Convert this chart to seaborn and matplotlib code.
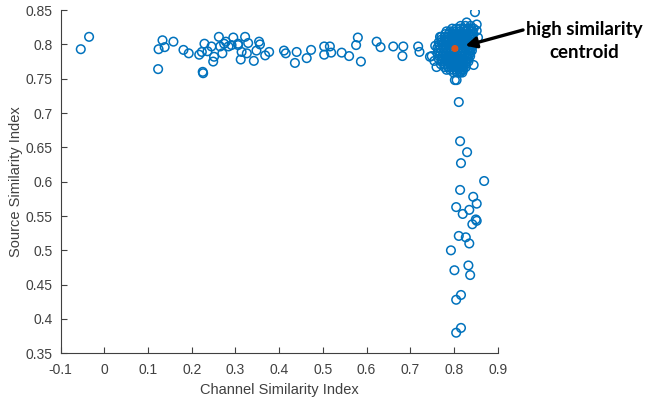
import numpy as np
import pandas as pd
import matplotlib
matplotlib.use("Agg")
import matplotlib.pyplot as plt
import seaborn as sns
from matplotlib.ticker import FuncFormatter

# Scattered pairs along the horizontal band (low channel similarity)
band_channel = [-0.054, -0.035, 0.123, 0.124, 0.133, 0.138, 0.158, 0.181, 0.193,
                0.217, 0.225, 0.226, 0.223, 0.229, 0.236, 0.245, 0.249, 0.251,
                0.262, 0.265, 0.270, 0.274, 0.278, 0.284, 0.295, 0.306, 0.291,
                0.306, 0.322, 0.329, 0.314, 0.326, 0.312, 0.342, 0.348, 0.354,
                0.356, 0.368, 0.377, 0.411, 0.415, 0.440, 0.436, 0.463, 0.473,
                0.503, 0.503, 0.516, 0.519, 0.543, 0.560, 0.576, 0.580, 0.587,
                0.623, 0.632, 0.661, 0.684, 0.682, 0.718, 0.721, 0.745]
band_source = [0.793, 0.811, 0.764, 0.793, 0.806, 0.796, 0.804, 0.792, 0.787,
               0.785, 0.760, 0.758, 0.789, 0.801, 0.790, 0.797, 0.775, 0.782,
               0.811, 0.797, 0.787, 0.801, 0.804, 0.797, 0.810, 0.801, 0.799,
               0.799, 0.811, 0.802, 0.789, 0.787, 0.778, 0.776, 0.791, 0.804,
               0.800, 0.784, 0.789, 0.791, 0.787, 0.789, 0.773, 0.780, 0.792,
               0.797, 0.785, 0.797, 0.788, 0.788, 0.783, 0.799, 0.810, 0.775,
               0.804, 0.796, 0.797, 0.797, 0.783, 0.797, 0.789, 0.782]

# Scattered pairs along the vertical arm (low source similarity)
arm_channel = [0.811, 0.814, 0.830, 0.816, 0.869, 0.814, 0.844, 0.852, 0.805,
               0.835, 0.820, 0.850, 0.852, 0.842, 0.811, 0.827, 0.835, 0.793,
               0.833, 0.801, 0.837, 0.816, 0.805, 0.816, 0.805]
arm_source = [0.716, 0.659, 0.643, 0.627, 0.601, 0.588, 0.578, 0.568, 0.563,
              0.559, 0.553, 0.545, 0.543, 0.538, 0.521, 0.519, 0.510, 0.500,
              0.478, 0.471, 0.464, 0.435, 0.428, 0.387, 0.380]

# Dense high-similarity cluster, listed row by row: source value -> channel values
cluster_rows = {
    0.827: [0.815, 0.826, 0.838],
    0.823: [0.796, 0.805, 0.814, 0.823, 0.832, 0.840, 0.845],
    0.819: [0.783, 0.791, 0.799, 0.806, 0.814, 0.822, 0.830, 0.838, 0.842],
    0.815: [0.780, 0.788, 0.795, 0.802, 0.810, 0.817, 0.825, 0.832, 0.838, 0.844],
    0.811: [0.771, 0.779, 0.786, 0.794, 0.801, 0.808, 0.816, 0.823, 0.830, 0.838, 0.842],
    0.807: [0.771, 0.779, 0.787, 0.794, 0.801, 0.809, 0.816, 0.823, 0.831, 0.838, 0.843],
    0.803: [0.765, 0.772, 0.780, 0.787, 0.794, 0.802, 0.809, 0.816, 0.824, 0.831, 0.838, 0.843],
    0.799: [0.766, 0.774, 0.781, 0.789, 0.796, 0.803, 0.811, 0.818, 0.825, 0.833, 0.839, 0.844],
    0.795: [0.762, 0.769, 0.776, 0.783, 0.791, 0.798, 0.805, 0.812, 0.820, 0.827, 0.834, 0.840],
    0.791: [0.764, 0.772, 0.779, 0.786, 0.794, 0.801, 0.808, 0.815, 0.822, 0.830, 0.836, 0.841],
    0.787: [0.762, 0.769, 0.776, 0.783, 0.790, 0.797, 0.805, 0.812, 0.819, 0.826, 0.832, 0.837],
    0.783: [0.766, 0.774, 0.782, 0.789, 0.796, 0.803, 0.810, 0.817, 0.824, 0.831, 0.837],
    0.779: [0.765, 0.772, 0.780, 0.787, 0.794, 0.801, 0.808, 0.815, 0.822, 0.829, 0.833],
    0.775: [0.771, 0.779, 0.786, 0.793, 0.800, 0.807, 0.814, 0.821, 0.828, 0.833],
    0.771: [0.770, 0.778, 0.785, 0.792, 0.799, 0.806, 0.813, 0.820, 0.827],
    0.767: [0.778, 0.786, 0.793, 0.801, 0.808, 0.815, 0.822, 0.827],
    0.763: [0.783, 0.791, 0.799, 0.806, 0.813, 0.820],
    0.759: [0.799, 0.807, 0.814, 0.819],
}

# Loose points on the rim of the cluster
rim_channel = [0.848, 0.852, 0.829, 0.768, 0.749, 0.760, 0.806, 0.821, 0.757,
               0.755, 0.814, 0.802, 0.852, 0.855, 0.845]
rim_source = [0.847, 0.829, 0.832, 0.811, 0.783, 0.767, 0.748, 0.763, 0.798,
              0.776, 0.760, 0.748, 0.820, 0.810, 0.770]

centroid_channel = [0.802]
centroid_source = [0.794]

x_ticks = [-0.1, 0, 0.1, 0.2, 0.3, 0.4, 0.5, 0.6, 0.7, 0.8, 0.9]
y_ticks = [0.35, 0.4, 0.45, 0.5, 0.55, 0.6, 0.65, 0.7, 0.75, 0.8, 0.85]

cluster_channel = [x for row in cluster_rows.values() for x in row]
cluster_source = [y for y, row in cluster_rows.items() for _ in row]

points = pd.DataFrame({
    "channel": band_channel + arm_channel + cluster_channel + rim_channel,
    "source": band_source + arm_source + cluster_source + rim_source,
})
centroid = pd.DataFrame({"channel": centroid_channel, "source": centroid_source})

sns.set_style("white")
plt.rcParams["font.family"] = ["Liberation Sans", "DejaVu Sans"]
text_gray = "#404040"

fig = plt.figure(figsize=(6.51, 4.03), dpi=100)
ax = fig.add_axes([0.0932, 0.1233, 0.6713, 0.8517])

sns.scatterplot(data=points, x="channel", y="source", ax=ax, marker="o", s=38,
                facecolor="none", edgecolor="#0072BD", linewidth=1.1, legend=False)
sns.scatterplot(data=centroid, x="channel", y="source", ax=ax, marker="o", s=26,
                color="#D95319", edgecolor="none", linewidth=0, legend=False, zorder=5)

ax.set_xlim(-0.1, 0.9)
ax.set_ylim(0.35, 0.85)
ax.set_xticks(x_ticks)
ax.set_yticks(y_ticks)
fmt = FuncFormatter(lambda v, _: f"{v:g}")
ax.xaxis.set_major_formatter(fmt)
ax.yaxis.set_major_formatter(fmt)
ax.tick_params(bottom=True, left=True, top=False, right=False,
               direction="in", length=4, width=0.8, colors=text_gray,
               labelsize=10)
ax.tick_params(axis="x", pad=7)
ax.tick_params(axis="y", pad=6)
for side in ("top", "right"):
    ax.spines[side].set_visible(False)
for side in ("left", "bottom"):
    ax.spines[side].set_color(text_gray)
    ax.spines[side].set_linewidth(0.8)

ax.set_xlabel("Channel Similarity Index", fontsize=10.5, color=text_gray, labelpad=4)
ax.set_ylabel("Source Similarity Index", fontsize=10.5, color=text_gray, labelpad=2)

ax.annotate("", xy=(0.826, 0.798), xytext=(0.958, 0.821),
            xycoords="data", textcoords="data", annotation_clip=False,
            arrowprops=dict(arrowstyle="-|>", lw=2.4, color="black",
                            mutation_scale=16, shrinkA=0, shrinkB=0))
fig.text(0.897, 0.898, "high similarity\ncentroid", ha="center", va="center",
         fontsize=13.5, fontweight="bold", family=["Lato", "DejaVu Sans"],
         linespacing=1.45, color="black")

fig.savefig("out.png", dpi=100)
